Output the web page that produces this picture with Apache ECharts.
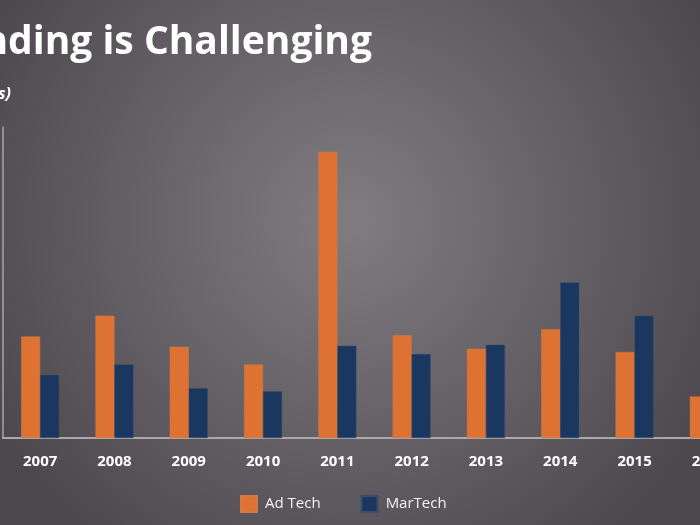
<!DOCTYPE html>
<html>
<head>
<meta charset="utf-8">
<script src="https://cdn.jsdelivr.net/npm/echarts@6/dist/echarts.min.js"></script>
<style>
html,body{margin:0;padding:0;overflow:hidden;background:#5a565b;width:700px;height:525px;}
#chart{width:746px;height:525px;}
</style>
</head>
<body>
<div id="chart"></div>
<script>
// Data ($ in billions)
const years = ['2007','2008','2009','2010','2011','2012','2013','2014','2015','2016'];
const adTech = [0.98, 1.18, 0.88, 0.71, 2.76, 0.99, 0.86, 1.05, 0.83, 0.40];
const marTech = [0.61, 0.71, 0.48, 0.45, 0.89, 0.81, 0.90, 1.50, 1.18, 0.90];
const titleText = 'Funding is Challenging';
const subtitleText = '($ in billions)';

const chart = echarts.init(document.getElementById('chart'));
chart.setOption({
  backgroundColor: {
    type: 'radial', x: 0.47, y: 0.42, r: 0.78,
    colorStops: [{offset: 0, color: '#807c81'}, {offset: 1, color: '#4c484d'}]
  },
  textStyle: {fontFamily: 'Open Sans'},
  graphic: [
    {type: 'text', right: 374, top: 23,
     style: {text: titleText, fill: '#ffffff', font: 'bold 39px "Open Sans"'}},
    {type: 'text', right: 735, top: 86,
     style: {text: subtitleText, fill: '#ffffff', font: 'italic bold 16px "Open Sans"'}}
  ],
  grid: {left: 3, right: 0, top: 127, bottom: 87, containLabel: false},
  legend: {
    left: 235, top: 490, itemWidth: 16, itemHeight: 16, itemGap: 40,
    icon: 'rect',
    textStyle: {color: '#f2f2f2', fontSize: 15, padding: [0, 0, 0, 3], fontFamily: 'Open Sans'},
    data: ['Ad Tech', 'MarTech']
  },
  xAxis: {
    type: 'category', data: years,
    axisLine: {lineStyle: {color: '#aaa8ab', width: 2}},
    axisTick: {show: false},
    axisLabel: {color: '#ffffff', fontSize: 15, fontWeight: 'bold', margin: 16, fontFamily: 'Open Sans'}
  },
  yAxis: {
    type: 'value', min: 0, max: 3,
    axisLine: {show: true, lineStyle: {color: '#a6a4a7', width: 1.5}},
    axisTick: {show: false},
    axisLabel: {show: false},
    splitLine: {show: false}
  },
  series: [
    {name: 'Ad Tech', type: 'bar', data: adTech, barWidth: 19, barGap: '0%',
     itemStyle: {color: '#de7232', borderColor: '#d17a45', borderWidth: 0.5}},
    {name: 'MarTech', type: 'bar', data: marTech, barWidth: 19,
     itemStyle: {color: '#19375f', borderColor: '#3b4d68', borderWidth: 0.5}}
  ]
});
</script>
</body>
</html>
